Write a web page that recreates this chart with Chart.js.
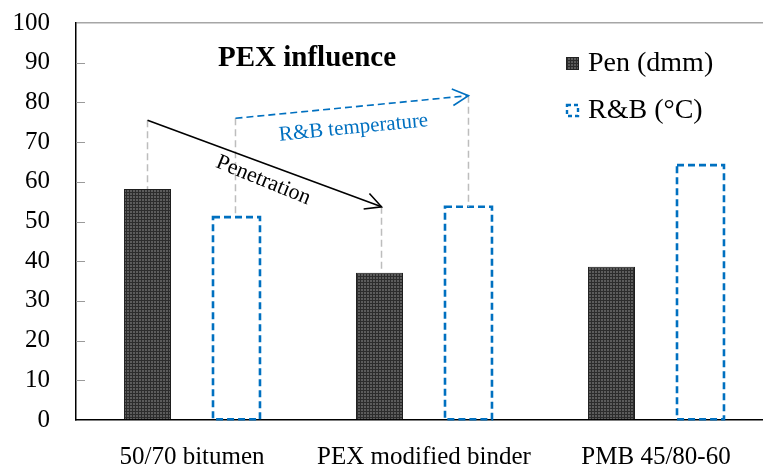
<!DOCTYPE html>
<html><head><meta charset="utf-8">
<script src="https://cdn.jsdelivr.net/npm/chart.js@4.4.0/dist/chart.umd.min.js"></script>
<style>html,body{margin:0;padding:0;overflow:hidden;background:#fff;width:763px;height:469px}canvas{display:block}</style>
</head><body>
<canvas id="c" width="780" height="469"></canvas>
<script>
const categories = ['50/70 bitumen', 'PEX modified binder', 'PMB 45/80-60'];
const seriesLabels = ['Pen (dmm)', 'R&B (°C)'];
const penValues = [58.2, 37.1, 38.6];
const rbValues = [51.1, 53.7, 64.2];
const yTickValues = [0, 10, 20, 30, 40, 50, 60, 70, 80, 90, 100];
const penArrow = [75.5, 53.7];
const rbArrow = [76.0, 81.7];
const chartTitle = 'PEX influence';
const penArrowLabel = 'Penetration';
const rbArrowLabel = 'R&B temperature';

const SERIF = '"Liberation Serif", "Times New Roman", serif';
const BLUE = '#0070C0';

const canvas = document.getElementById('c');
const ctx0 = canvas.getContext('2d');
const pc = document.createElement('canvas'); pc.width = 3; pc.height = 3;
const pcx = pc.getContext('2d');
pcx.fillStyle = '#5c5c5c'; pcx.fillRect(0, 0, 3, 3);
pcx.fillStyle = '#2c2c2c'; pcx.fillRect(0, 0, 3, 1); pcx.fillRect(0, 0, 1, 3);
const pattern = ctx0.createPattern(pc, 'repeat');

function arrow(ctx, x1, y1, x2, y2, color, dash) {
  ctx.save();
  ctx.strokeStyle = color; ctx.lineWidth = 1.6; ctx.setLineDash(dash);
  ctx.beginPath(); ctx.moveTo(x1, y1); ctx.lineTo(x2, y2); ctx.stroke();
  ctx.setLineDash([]);
  const a = Math.atan2(y2 - y1, x2 - x1), L = 18, s = 0.48;
  ctx.beginPath();
  ctx.moveTo(x2 - L * Math.cos(a - s), y2 - L * Math.sin(a - s));
  ctx.lineTo(x2, y2);
  ctx.lineTo(x2 - L * Math.cos(a + s), y2 - L * Math.sin(a + s));
  ctx.stroke();
  ctx.restore();
}
function guide(ctx, x, yA, yB) {
  ctx.save();
  ctx.strokeStyle = '#bdbdbd'; ctx.lineWidth = 1.5; ctx.setLineDash([7, 4]);
  ctx.beginPath(); ctx.moveTo(x, yA); ctx.lineTo(x, yB); ctx.stroke();
  ctx.restore();
}
function rotText(ctx, text, x, y, ang, font, color) {
  ctx.save();
  ctx.translate(x, y); ctx.rotate(ang);
  ctx.font = font; ctx.fillStyle = color; ctx.textAlign = 'center'; ctx.textBaseline = 'middle';
  ctx.fillText(text, 0, 0);
  ctx.restore();
}

const annotPlugin = {
  id: 'annot',
  afterDatasetsDraw(chart) {
    const ctx = chart.ctx;
    const y = chart.scales.y;
    const area = chart.chartArea;
    const pen = chart.getDatasetMeta(0).data;
    const rb = chart.getDatasetMeta(1).data;

    ctx.save();
    ctx.strokeStyle = BLUE; ctx.lineWidth = 2.6; ctx.setLineDash([7, 4]);
    rb.forEach(el => {
      const p = el.getProps(['x', 'y', 'base', 'width'], true);
      ctx.strokeRect(p.x - p.width / 2, p.y, p.width, p.base - p.y);
    });
    ctx.restore();

    ctx.save();
    ctx.strokeStyle = '#9a9a9a'; ctx.lineWidth = 1;
    yTickValues.forEach(v => {
      if (v === 0 || v === 100) return;
      const py = Math.round(y.getPixelForValue(v)) + 0.5;
      ctx.beginPath(); ctx.moveTo(area.left, py); ctx.lineTo(area.left + 9, py); ctx.stroke();
    });
    ctx.restore();

    const p1 = pen[0].getProps(['x', 'y'], true), p2 = pen[1].getProps(['x', 'y'], true);
    const r1 = rb[0].getProps(['x', 'y'], true), r2 = rb[1].getProps(['x', 'y'], true);
    const pa0 = y.getPixelForValue(penArrow[0]), pa1 = y.getPixelForValue(penArrow[1]);
    const ra0 = y.getPixelForValue(rbArrow[0]), ra1 = y.getPixelForValue(rbArrow[1]);
    guide(ctx, p1.x, pa0, p1.y);
    guide(ctx, p2.x + 2, pa1, p2.y);
    guide(ctx, r1.x - 1, ra0, r1.y);
    guide(ctx, r2.x, ra1, r2.y);

    arrow(ctx, p1.x, pa0, p2.x + 2, pa1, '#000', []);
    arrow(ctx, r1.x - 1, ra0, r2.x, ra1, BLUE, [7, 4]);

    const pAng = Math.atan2(pa1 - pa0, p2.x - p1.x);
    const pmx = (p1.x + p2.x) / 2, pmy = (pa0 + pa1) / 2;
    rotText(ctx, penArrowLabel, pmx - 18 * Math.sin(pAng) + 6, pmy + 18 * Math.cos(pAng), pAng + 0.03, '22px ' + SERIF, '#000');
    const rAng = Math.atan2(ra1 - ra0, r2.x - r1.x);
    const rmx = (r1.x + r2.x) / 2, rmy = (ra0 + ra1) / 2;
    rotText(ctx, rbArrowLabel, rmx - 21 * Math.sin(rAng) - 1, rmy + 21 * Math.cos(rAng), rAng, '21px ' + SERIF, BLUE);

    ctx.save();
    ctx.font = 'bold 29px ' + SERIF; ctx.fillStyle = '#000';
    ctx.textAlign = 'left'; ctx.textBaseline = 'middle';
    ctx.fillText(chartTitle, 218, 59);
    ctx.restore();

    ctx.save();
    ctx.font = '28px ' + SERIF; ctx.fillStyle = '#000';
    ctx.textAlign = 'left'; ctx.textBaseline = 'middle';
    const ds = chart.data.datasets;
    ctx.fillStyle = pattern; ctx.fillRect(566, 57, 13, 13);
    ctx.strokeStyle = '#222'; ctx.lineWidth = 1; ctx.strokeRect(566.5, 57.5, 12, 12);
    ctx.fillStyle = '#000'; ctx.fillText(ds[0].label, 588, 64);
    ctx.strokeStyle = BLUE; ctx.lineWidth = 2.4; ctx.setLineDash([4, 3]);
    ctx.strokeRect(567, 105, 11, 11);
    ctx.setLineDash([]);
    ctx.fillText(ds[1].label, 588, 111);
    ctx.restore();
  }
};

new Chart(canvas, {
  type: 'bar',
  data: {
    labels: categories,
    datasets: [
      { label: seriesLabels[0], data: penValues, backgroundColor: pattern, borderColor: '#1e1e1e', borderWidth: 1,
        categoryPercentage: 0.767, barPercentage: 0.528 },
      { label: seriesLabels[1], data: rbValues, backgroundColor: 'rgba(255,255,255,0)', borderWidth: 0,
        categoryPercentage: 0.767, barPercentage: 0.528 }
    ]
  },
  options: {
    responsive: false,
    maintainAspectRatio: false,
    animation: false,
    devicePixelRatio: 1,
    layout: { padding: { left: 0, right: 8, top: 23, bottom: 0 } },
    plugins: { legend: { display: false }, title: { display: false }, tooltip: { enabled: false } },
    scales: {
      x: {
        grid: { display: false, drawTicks: false },
        border: { display: true, color: '#000', width: 1.5 },
        ticks: { color: '#000', font: { family: SERIF, size: 25 }, padding: 22, maxRotation: 0, autoSkip: false },
        afterFit(s) { s.height = 49; s.paddingTop = 0; s.paddingBottom = 0; }
      },
      y: {
        min: 0, max: 100,
        afterBuildTicks(s) { s.ticks = yTickValues.map(v => ({ value: v })); },
        grid: { drawTicks: false, color: c => (c.tick && c.tick.value === 100) ? '#a6a6a6' : 'rgba(0,0,0,0)', lineWidth: 1.5 },
        border: { display: true, color: '#000', width: 1.5 },
        ticks: { color: '#000', font: { family: SERIF, size: 25 }, padding: 26 },
        afterFit(s) { s.width = 76; s.paddingTop = 0; s.paddingBottom = 0; }
      }
    }
  },
  plugins: [annotPlugin]
});
</script>
</body></html>
